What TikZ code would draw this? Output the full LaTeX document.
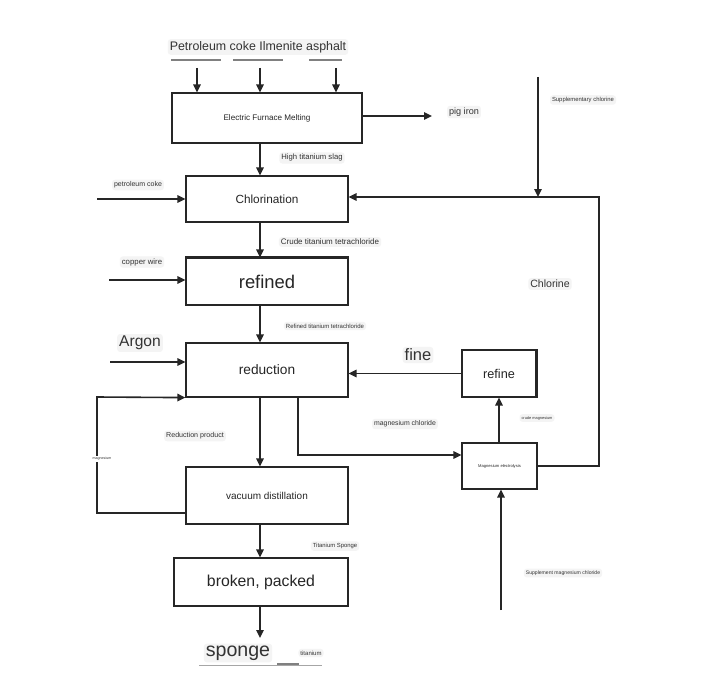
\documentclass[tikz,border=0pt]{standalone}
\usepackage{fontspec}
\setmainfont{Liberation Sans}
\usetikzlibrary{arrows.meta}
\definecolor{txt}{HTML}{333333}
\definecolor{lab}{HTML}{F4F4F4}
\begin{document}
\begin{tikzpicture}[x=1pt,y=-1pt,
  proc/.style={draw=black!85,line width=1.2pt,rectangle,inner sep=0pt,text=black!85},
  arr/.style={draw=black!85,line width=1.6pt,-{Triangle[length=8pt,width=7.5pt]}},
  lbl/.style={fill=lab,rounded corners=3pt,inner sep=2pt,text=txt}]
\useasboundingbox[fill=white] (0,0) rectangle (704,698);

% process boxes
\node[proc,minimum width=190pt,minimum height=50pt] (fur) at (267,118) {\fontsize{8.1}{9}\selectfont Electric Furnace Melting};
\node[proc,minimum width=162pt,minimum height=46pt] (chl) at (267,199) {\fontsize{11.8}{13}\selectfont Chlorination};
\node[proc,minimum width=162pt,minimum height=47pt] (ref) at (267,281.5) {\fontsize{18.4}{20}\selectfont refined};
\node[proc,minimum width=162pt,minimum height=54pt] (red) at (267,370) {\fontsize{13.7}{15}\selectfont reduction};
\node[proc,minimum width=162pt,minimum height=57pt] (vac) at (267,495.5) {\fontsize{10}{11}\selectfont vacuum distillation};
\node[proc,minimum width=174pt,minimum height=48pt] (brk) at (261,582) {\fontsize{15.8}{17}\selectfont broken, packed};
\node[proc,minimum width=74pt,minimum height=47pt] (rfn) at (499,373.5) {\fontsize{12.7}{14}\selectfont refine};
\node[proc,minimum width=75pt,minimum height=46pt] (ele) at (499.5,466) {\fontsize{4.1}{5}\selectfont Magnesium electrolysis};
\draw[line width=2.4pt,black!85] (ref.north west) -- (ref.north east);
\draw[line width=2.4pt,black!85] (rfn.north east) -- (rfn.south east);

% x positions of main column
\coordinate (xa) at (260,0);
\coordinate (x1) at (197,0);
\coordinate (x3) at (336,0);

% raw materials
\node[lbl,text=black!80] (raw) at (258,47) {\fontsize{12.4}{14}\selectfont Petroleum coke Ilmenite asphalt};
\draw[gray,line width=1.5pt] (171,60) -- (221,60) (233,60) -- (283,60) (309,60) -- (342,60);
\coordinate (i1) at (197,68);
\coordinate (i2) at (260,68);
\coordinate (i3) at (336,68);
\draw[arr] (i1) -- (fur.north -| x1);
\draw[arr] (i2) -- (fur.north -| xa);
\draw[arr] (i3) -- (fur.north -| x3);

% pig iron
\node[lbl] (pig) at (464,112) {\fontsize{9.1}{10}\selectfont pig iron};
\draw[arr] (363,116) -- (432,116);

% main column arrows
\draw[arr] (fur.south -| xa) -- (chl.north -| xa);
\node[lbl] (hts) at (312,158) {\fontsize{7.7}{9}\selectfont High titanium slag};
\draw[arr] (chl.south -| xa) -- (ref.north -| xa);
\node[lbl] (ctt) at (330,242) {\fontsize{8}{9}\selectfont Crude titanium tetrachloride};
\draw[arr] (ref.south -| xa) -- (red.north -| xa);
\node[lbl] (rtt) at (325,326) {\fontsize{6}{7}\selectfont Refined titanium tetrachloride};
\draw[arr] (red.south -| xa) -- (vac.north -| xa);
\node[lbl] (rp) at (195,436) {\fontsize{7.1}{8}\selectfont Reduction product};
\draw[arr] (vac.south -| xa) -- (brk.north -| xa);
\node[lbl] (tsp) at (335,546) {\fontsize{5.9}{7}\selectfont Titanium Sponge};
\coordinate (spg) at (260,638);
\draw[arr] (brk.south -| xa) -- (spg);
\node[lbl,text=black!80] (sponge) at (238,653) {\fontsize{19.6}{21}\selectfont sponge};
\node[lbl] (tit) at (311,653) {\fontsize{6}{7}\selectfont titanium};
\draw[gray!70,line width=0.6pt] (199,665) -- (322,665);
\draw[gray,line width=2pt] (277,664) -- (299,664);

% side inputs
\coordinate (pc) at (97,199);
\draw[arr] (pc) -- (chl.west);
\node[lbl] (pcl) at (138,185) {\fontsize{7}{8}\selectfont petroleum coke};
\coordinate (cw) at (109,280);
\draw[arr] (cw) -- (cw -| ref.west);
\node[lbl] (cwl) at (142,262) {\fontsize{7.8}{9}\selectfont copper wire};
\coordinate (ar) at (110,362);
\draw[arr] (ar) -- (ar -| red.west);
\node[lbl] (arl) at (140,343) {\fontsize{15.6}{17}\selectfont Argon};

% magnesium recycle loop (left)
\coordinate (lp1) at (97,513);
\coordinate (lp2) at (97,397);
\draw[arr] (lp1 -| vac.west) -- (lp1) -- (lp2) -- (red.south west);
\node[fill=white,inner sep=1.5pt,text=txt] (mgl) at (102,459) {\fontsize{3.6}{4}\selectfont magnesium};

% magnesium chloride to electrolysis
\coordinate (mc) at (298,455);
\draw[arr] (red.south -| mc) -- (mc) -- (mc -| ele.west);
\node[lbl] (mcl) at (405,424) {\fontsize{6.9}{8}\selectfont magnesium chloride};

% electrolysis -> refine -> reduction
\coordinate (xm) at (499,0);
\draw[arr] (ele.north -| xm) -- (rfn.south -| xm);
\node[lbl] (cml) at (537,418) {\fontsize{3.9}{5}\selectfont crude magnesium};
\draw[arr] (rfn.west) -- (rfn.west -| red.east);
\node[lbl,text=black!80] (fine) at (418,355) {\fontsize{16.5}{18}\selectfont fine};

% supplement magnesium chloride
\coordinate (smc) at (501,610);
\draw[arr] (smc) -- (smc |- ele.south);
\node[lbl] (smcl) at (563,573) {\fontsize{5.1}{6}\selectfont Supplement magnesium chloride};

% chlorine loop
\coordinate (cr1) at (599,466);
\coordinate (cr2) at (599,197);
\draw[arr] (ele.east) -- (cr1) -- (cr2) -- (cr2 -| chl.east);
\node[lbl] (chll) at (550,284) {\fontsize{10.6}{12}\selectfont Chlorine};
\coordinate (sc) at (538,77);
\draw[arr] (sc) -- (sc |- cr2);
\node[lbl] (scl) at (583,100) {\fontsize{5.9}{7}\selectfont Supplementary chlorine};
\end{tikzpicture}
\end{document}
